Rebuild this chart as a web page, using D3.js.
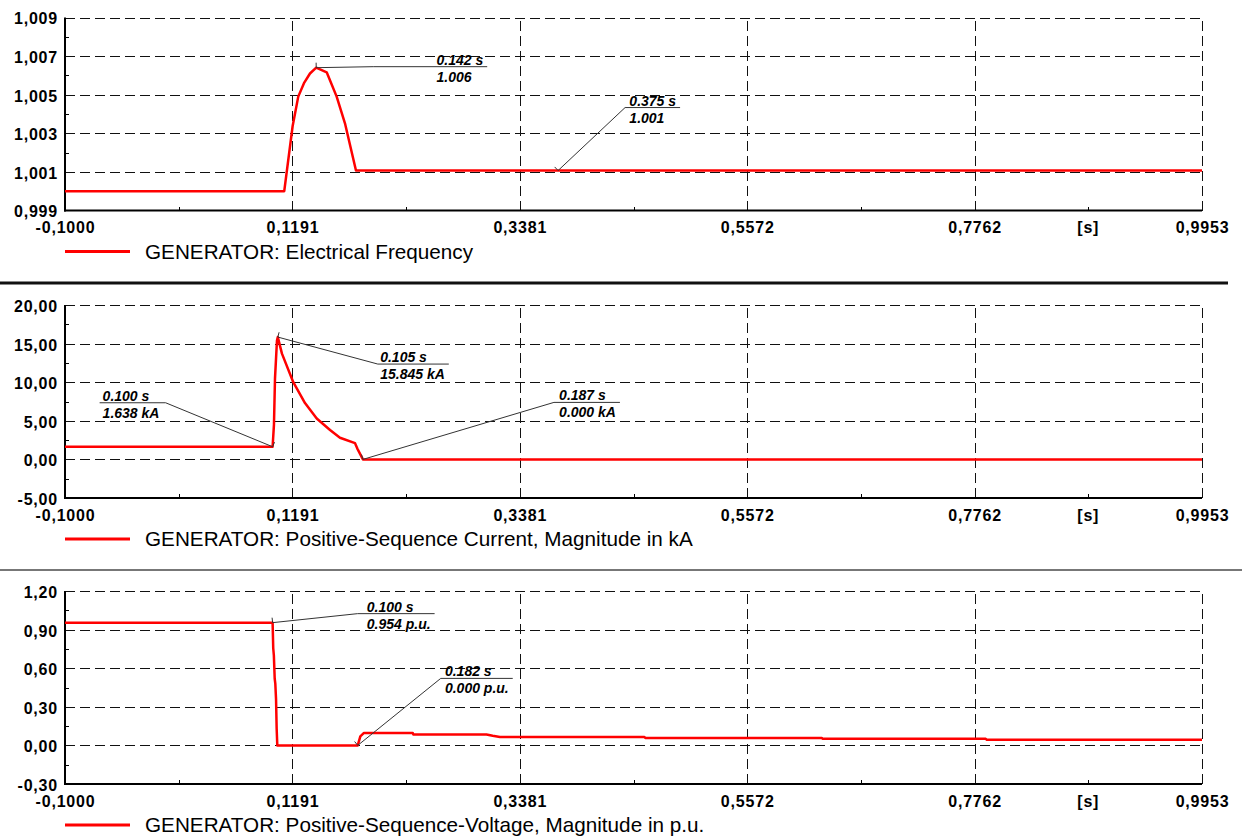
<!DOCTYPE html>
<html>
<head>
<meta charset="utf-8">
<title>Generator fault plots</title>
<script src="https://cdn.jsdelivr.net/npm/d3@7"></script>
<style>
    html, body { margin: 0; background: #fff; }
    svg { display: block; font-family: Arial, "Liberation Sans", Helvetica, sans-serif; }
    .lbl { font-size: 16px; font-weight: bold; letter-spacing: 0.8px; fill: #000; }
    .grid line { stroke: #111; stroke-width: 1; stroke-dasharray: 10,5; shape-rendering: crispEdges; }
    .grid path, .labels path { display: none; }
    .axis-line { stroke: #000; stroke-width: 2; }
    .minor { stroke: #000; stroke-width: 1; shape-rendering: crispEdges; }
    .curve { fill: none; stroke: #f00; stroke-width: 2.5; stroke-linejoin: round; }
    .legend text { font-size: 20.7px; fill: #000; }
    .mark line { stroke: #333; stroke-width: 1; }
    .mark text { font-size: 14px; font-weight: bold; font-style: italic; fill: #000; }
</style>
</head>
<body>
<svg></svg>
<script>
// --- values ---
var timeTicks = [-0.1000, 0.1191, 0.3381, 0.5572, 0.7762, 0.9953];

var freqTicks = [0.999, 1.001, 1.003, 1.005, 1.007, 1.009];
var freqT = [-0.1, 0.1112, 0.1193, 0.1247, 0.1305, 0.1360, 0.142, 0.1521, 0.1617, 0.1697, 0.1803, 0.9953];
var freqV = [1.0000, 1.0000, 1.00338, 1.0049, 1.00563, 1.0061, 1.0064, 1.00616, 1.0049, 1.00352, 1.00107, 1.00107];

var curTicks = [-5, 0, 5, 10, 15, 20];
var curT = [-0.1, 0.1000, 0.1013, 0.1023, 0.1042, 0.105, 0.109, 0.1199, 0.1312, 0.1425, 0.1553, 0.1649, 0.1794, 0.1816, 0.187, 0.9953];
var curV = [1.638, 1.638, 4.5, 10.5, 15.4, 15.845, 13.7, 10.0, 7.3, 5.3, 3.8, 2.8, 2.1, 1.4, 0.0, 0.0];

var voltTicks = [-0.30, 0.00, 0.30, 0.60, 0.90, 1.20];
var voltT = [-0.1, 0.1000, 0.1006, 0.1012, 0.1020, 0.1026, 0.1033, 0.1039, 0.1045, 0.182, 0.1845, 0.188,
             0.235, 0.2355, 0.306, 0.312, 0.319, 0.458, 0.459, 0.629, 0.630, 0.787, 0.788, 0.9953];
var voltV = [0.954, 0.954, 0.755, 0.70, 0.52, 0.48, 0.36, 0.13, 0.0, 0.0, 0.07, 0.097,
             0.097, 0.085, 0.085, 0.075, 0.066, 0.066, 0.058, 0.058, 0.051, 0.051, 0.044, 0.044];

var legendNames = [
    'GENERATOR: Electrical Frequency',
    'GENERATOR: Positive-Sequence Current, Magnitude in kA',
    'GENERATOR: Positive-Sequence-Voltage, Magnitude in p.u.'
];

// cursor annotations: time and the two text rows
var freqMarks = [[0.142, '0.142 s', '1.006'], [0.375, '0.375 s', '1.001']];
var curMarks = [[0.100, '0.100 s', '1.638 kA'], [0.105, '0.105 s', '15.845 kA'], [0.187, '0.187 s', '0.000 kA']];
var voltMarks = [[0.100, '0.100 s', '0.954 p.u.'], [0.182, '0.182 s', '0.000 p.u.']];

// --- layout ---
var W = 1242, H = 839,
    left = 65, right = 1202,
    plotH = 193,
    tops = [17.5, 305, 591];

// label boxes: leader dx, dy from the point, underline length, side (+1 right, -1 left)
var freqBox = [[57, -1, 114, 1], [67, -63, 55, 1]];
var curBox = [[-107, -44, 66, -1], [100, 27, 71, 1], [191, -57, 66, 1]];
var voltBox = [[85, -9, 77, 1], [83, -67, 72, 1]];

var loc = d3.formatLocale({ decimal: ',', thousands: '.', grouping: [3], currency: ['', ''], minus: '-' });

var panels = [
    { ticks: freqTicks, t: freqT, v: freqV, fmt: loc.format('.3f'), name: legendNames[0], marks: freqMarks, boxes: freqBox },
    { ticks: curTicks,  t: curT,  v: curV,  fmt: loc.format('.2f'), name: legendNames[1], marks: curMarks,  boxes: curBox },
    { ticks: voltTicks, t: voltT, v: voltV, fmt: loc.format('.2f'), name: legendNames[2], marks: voltMarks, boxes: voltBox }
];

var svg = d3.select('svg').attr('width', W).attr('height', H);

var x = d3.scaleLinear().domain([timeTicks[0], timeTicks[timeTicks.length - 1]]).range([left, right]);
var xfmt = loc.format('.4f');

function valueAt(p, t) {
    var i = d3.bisectLeft(p.t, t);
    if (p.t[i] === t || i === 0) return p.v[i];
    var a = p.t[i - 1], b = p.t[i];
    return p.v[i - 1] + (p.v[i] - p.v[i - 1]) * (t - a) / (b - a);
}

panels.forEach(function (p, k) {
    var top = tops[k], bottom = top + plotH;
    var y = d3.scaleLinear().domain([p.ticks[0], p.ticks[p.ticks.length - 1]]).range([bottom, top]);
    var g = svg.append('g');

    // dashed grid
    g.append('g').attr('class', 'grid')
        .attr('transform', 'translate(0,' + bottom + ')')
        .call(d3.axisBottom(x).tickValues(timeTicks.slice(1)).tickSize(-plotH).tickFormat(''));
    g.append('g').attr('class', 'grid')
        .attr('transform', 'translate(' + left + ',0)')
        .call(d3.axisLeft(y).tickValues(p.ticks.slice(1)).tickSize(-(right - left)).tickFormat(''));

    // minor ticks at half steps
    var xm = d3.pairs(timeTicks, function (a, b) { return (a + b) / 2; });
    var ym = d3.pairs(p.ticks, function (a, b) { return (a + b) / 2; });
    g.selectAll('.mx').data(xm).enter().append('line').attr('class', 'minor')
        .attr('x1', function (d) { return Math.round(x(d)) + 0.5; })
        .attr('x2', function (d) { return Math.round(x(d)) + 0.5; })
        .attr('y1', bottom - 4).attr('y2', bottom);
    g.selectAll('.my').data(ym).enter().append('line').attr('class', 'minor')
        .attr('y1', function (d) { return Math.round(y(d)) + 0.5; })
        .attr('y2', function (d) { return Math.round(y(d)) + 0.5; })
        .attr('x1', left).attr('x2', left + 4);

    // axis lines
    g.append('line').attr('class', 'axis-line')
        .attr('x1', left).attr('x2', left).attr('y1', top).attr('y2', bottom + 1);
    g.append('line').attr('class', 'axis-line')
        .attr('x1', left - 1).attr('x2', right).attr('y1', bottom).attr('y2', bottom);

    // tick labels
    var xl = g.append('g').attr('class', 'labels')
        .attr('transform', 'translate(0,' + bottom + ')')
        .call(d3.axisBottom(x).tickValues(timeTicks).tickFormat(xfmt).tickSize(0).tickPadding(11.5));
    xl.selectAll('text').attr('class', 'lbl');
    xl.append('text').attr('class', 'lbl')
        .attr('x', x((timeTicks[4] + timeTicks[5]) / 2)).attr('y', 11.5).attr('dy', '0.71em')
        .attr('text-anchor', 'middle').text('[s]');

    var yl = g.append('g').attr('class', 'labels')
        .attr('transform', 'translate(' + left + ',0)')
        .call(d3.axisLeft(y).tickValues(p.ticks).tickFormat(p.fmt).tickSize(0).tickPadding(7));
    yl.selectAll('text').attr('class', 'lbl').attr('dy', '0.4em');

    // curve
    var line = d3.line()
        .x(function (d) { return x(d[0]); })
        .y(function (d) { return y(d[1]); });
    g.append('path').attr('class', 'curve').attr('d', line(d3.zip(p.t, p.v)));

    // cursor labels
    p.marks.forEach(function (m, j) {
        var b = p.boxes[j];
        var px = x(m[0]), py = y(valueAt(p, m[0]));
        var ex = px + b[0], ey = py + b[1];
        var x0 = b[3] > 0 ? ex : ex - b[2], x1 = b[3] > 0 ? ex + b[2] : ex;
        var mg = g.append('g').attr('class', 'mark');
        // small tick at the point, perpendicular to the leader
        var len = Math.hypot(b[0], b[1]), nx = b[1] / len, ny = -b[0] / len;
        if (ny > 0) { nx = -nx; ny = -ny; }
        mg.append('line').attr('x1', px).attr('y1', py).attr('x2', px + nx * 5).attr('y2', py + ny * 5);
        mg.append('line').attr('x1', px).attr('y1', py).attr('x2', ex).attr('y2', ey);
        mg.append('line').attr('x1', x0).attr('y1', ey).attr('x2', x1).attr('y2', ey);
        var t1 = mg.append('text').attr('y', ey - 2).text(m[1]);
        var t2 = mg.append('text').attr('y', ey + 15).text(m[2]);
        var wmax = Math.max(t1.node().getComputedTextLength(), t2.node().getComputedTextLength());
        var tx = b[3] > 0 ? x1 - 4 - wmax : x0 + 3;
        t1.attr('x', tx);
        t2.attr('x', tx);
    });

    // legend
    var lg = g.append('g').attr('class', 'legend');
    var ly = bottom + 41;
    lg.append('line').attr('x1', left).attr('x2', 130).attr('y1', ly).attr('y2', ly)
        .attr('stroke', '#f00').attr('stroke-width', 3);
    lg.append('text').attr('x', 145).attr('y', ly + 7).text(p.name);
});

// panel separators
svg.append('line').attr('x1', 0).attr('x2', 1228).attr('y1', 283).attr('y2', 283)
    .attr('stroke', '#111').attr('stroke-width', 3);
svg.append('line').attr('x1', 0).attr('x2', W).attr('y1', 570).attr('y2', 570)
    .attr('stroke', '#777').attr('stroke-width', 2);
</script>
</body>
</html>
